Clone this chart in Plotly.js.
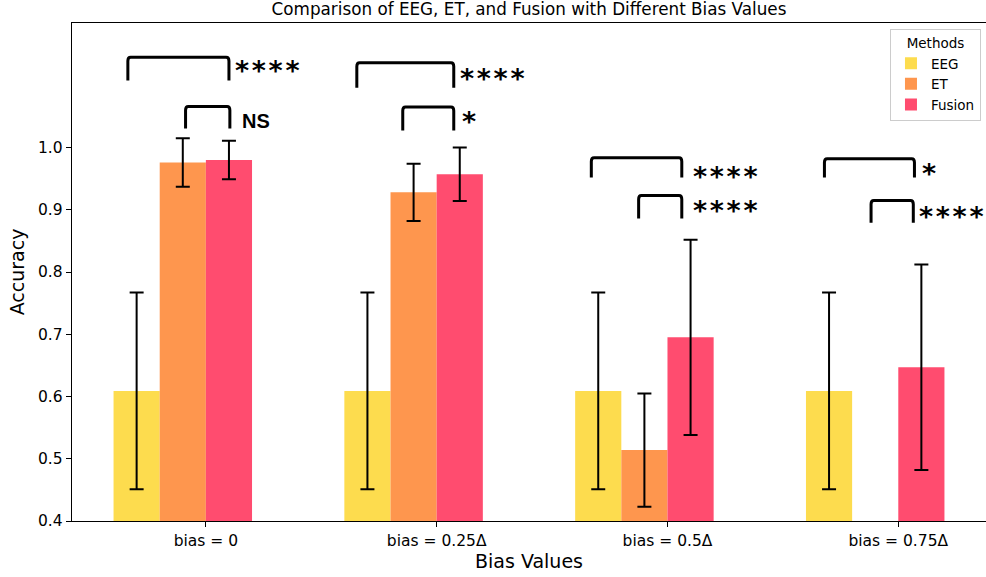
<!DOCTYPE html>
<html><head><meta charset="utf-8">
<script src="https://cdn.plot.ly/plotly-3.0.1.min.js"></script>
<style>html,body{margin:0;padding:0;background:#fff}</style>
</head><body><div id="chart" style="width:986px;height:577px"></div>
<script>
// ---- data ----
const categories = ['bias = 0', 'bias = 0.25Δ', 'bias = 0.5Δ', 'bias = 0.75Δ'];
const methods = ['EEG', 'ET', 'Fusion'];
const eegMean = [0.609, 0.609, 0.609, 0.609];
const eegErr = [0.158, 0.158, 0.158, 0.158];
const etMean = [0.976, 0.928, 0.514, null];
const etErr = [0.039, 0.046, 0.091, null];
const fusionMean = [0.980, 0.957, 0.695, 0.647];
const fusionErr = [0.031, 0.043, 0.157, 0.165];

// significance comparisons
const sigGroup = [0, 0, 1, 1, 2, 2, 3, 3];
const sigFrom = ['EEG', 'ET', 'EEG', 'ET', 'EEG', 'ET', 'EEG', 'ET'];
const sigTo = ['Fusion', 'Fusion', 'Fusion', 'Fusion', 'Fusion', 'Fusion', 'Fusion', 'Fusion'];
const sigLabel = ['****', 'NS', '****', '*', '****', '****', '*', '****'];
// bracket placement (layout)
const brTop = [1.145, 1.066, 1.136, 1.065, 0.9835, 0.923, 0.982, 0.915];
const brLeg = [1.1075, 1.0305, 1.096, 1.0275, 0.952, 0.886, 0.952, 0.879];
const brDxL = [-0.038, 0.012, -0.046, -0.047, -0.030, -0.025, -0.020, -0.018];
const brDxR = [0.000, 0.004, -0.026, -0.026, -0.038, -0.038, -0.030, -0.035];
const lblY = [1.128, 1.043, 1.1155, 1.0466, 0.9575, 0.903, 0.963, 0.894];
const lblDx = [4, 10, 4, 6, 9, 9, 6, 4];

const colors = {EEG: '#FDDC4E', ET: '#FE964E', Fusion: '#FF4C6F'};
const barW = 0.2;
const barOffset = {EEG: -0.4, ET: -0.2, Fusion: 0.0};
const xIdx = categories.map((c, i) => i);

const series = {EEG: [eegMean, eegErr], ET: [etMean, etErr], Fusion: [fusionMean, fusionErr]};
const traces = methods.map(m => ({
  type: 'bar', name: m, x: xIdx, y: series[m][0],
  width: barW, offset: barOffset[m],
  marker: {color: colors[m], line: {width: 0}},
  error_y: {type: 'data', array: series[m][1], visible: true, color: '#000', thickness: 2, width: 7},
  hoverinfo: 'skip'
}));

const center = (g, m) => g + barOffset[m] + barW / 2;
const shapes = [];
const annotations = [];
sigGroup.forEach((g, k) => {
  const x0 = center(g, sigFrom[k]) + brDxL[k];
  const x1 = center(g, sigTo[k]) + brDxR[k];
  const yt = brTop[k], yb = brLeg[k];
  const ex = 0.012, ey = 0.006;
  shapes.push({
    type: 'path', xref: 'x', yref: 'y',
    path: `M ${x0},${yb} L ${x0},${yt - ey} Q ${x0},${yt} ${x0 + ex},${yt} L ${x1 - ex},${yt} Q ${x1},${yt} ${x1},${yt - ey} L ${x1},${yb}`,
    line: {color: '#000', width: 3}
  });
  const isNS = sigLabel[k] === 'NS';
  const txt = isNS ? 'NS' : sigLabel[k].split('').join('\u200A');
  annotations.push({
    xref: 'x', yref: 'y', x: x1, y: lblY[k], text: txt,
    xanchor: 'left', yanchor: 'middle', showarrow: false,
    xshift: lblDx[k], yshift: isNS ? 0 : -3,
    font: isNS ? {family: 'Liberation Sans', size: 20, color: '#000', weight: 'bold'}
               : {family: 'DejaVu Sans', size: 27, color: '#000', weight: 'bold'}
  });
});

const layout = {
  width: 986, height: 577,
  margin: {l: 72, r: 0, t: 23, b: 56},
  paper_bgcolor: '#fff', plot_bgcolor: '#fff',
  font: {family: 'DejaVu Sans', color: '#000'},
  barmode: 'overlay',
  title: {text: 'Comparison of EEG, ET, and Fusion with Different Bias Values',
          font: {size: 16.8, family: 'DejaVu Sans', color: '#000'},
          x: 0.5, xref: 'paper', xanchor: 'center', y: 0.984, yref: 'container', yanchor: 'middle'},
  xaxis: {range: [-0.58, 3.38], tickvals: xIdx, ticktext: categories,
          showline: true, linecolor: '#000', linewidth: 1.3, mirror: true,
          ticks: 'outside', ticklen: 5, tickcolor: '#000', showgrid: false, zeroline: false,
          tickfont: {size: 15.5},
          title: {text: 'Bias Values', font: {size: 19}, standoff: 4}},
  yaxis: {range: [0.4, 1.2], tickvals: [0.4, 0.5, 0.6, 0.7, 0.8, 0.9, 1.0],
          ticktext: ['0.4', '0.5', '0.6', '0.7', '0.8', '0.9', '1.0'],
          showline: true, linecolor: '#000', linewidth: 1.3, mirror: true,
          ticks: 'outside', ticklen: 5, tickcolor: '#000', showgrid: false, zeroline: false,
          tickfont: {size: 15.5},
          title: {text: 'Accuracy', font: {size: 19}, standoff: 8}},
  legend: {x: 0.9945, y: 0.987, xanchor: 'right', yanchor: 'top',
           bgcolor: 'rgba(255,255,255,0.8)', bordercolor: '#cccccc', borderwidth: 1,
           font: {size: 13.5}, title: {text: 'Methods', side: 'top center', font: {size: 13.5}},
           tracegroupgap: 0},
  shapes: shapes,
  annotations: annotations,
  showlegend: true
};

Plotly.newPlot('chart', traces, layout, {displayModeBar: false, staticPlot: true});
</script>
</body></html>
